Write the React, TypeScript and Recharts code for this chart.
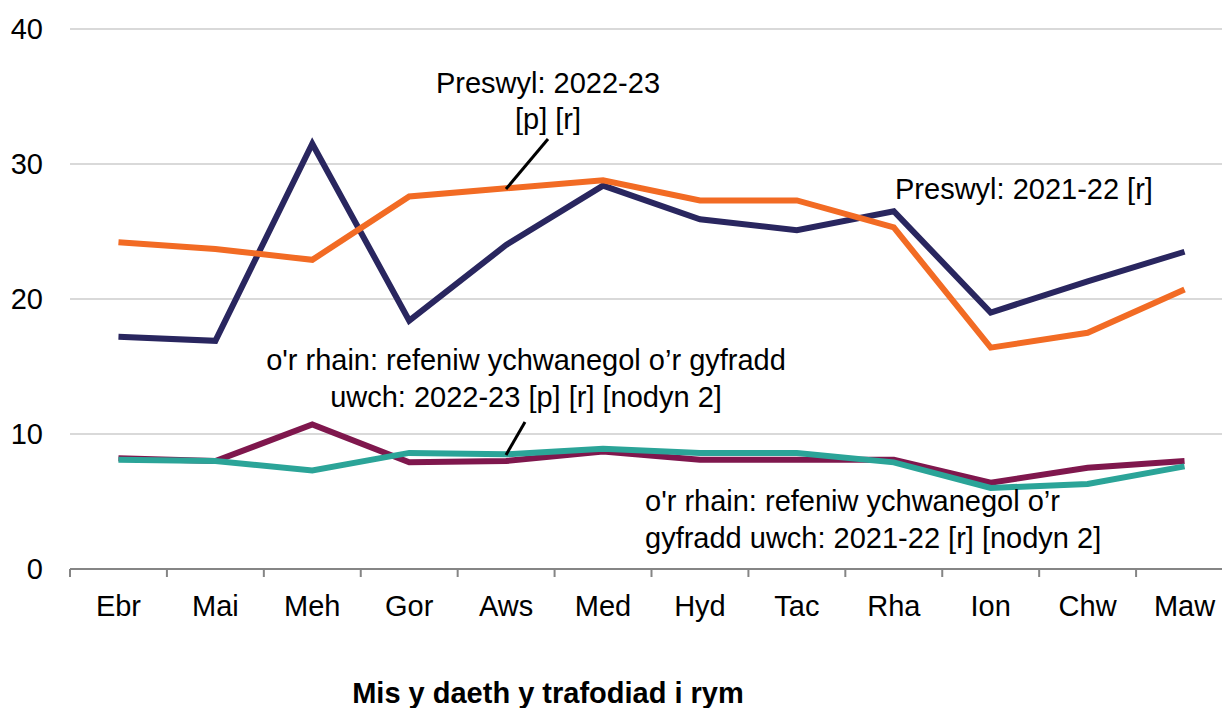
import { LineChart, Line, XAxis, YAxis, CartesianGrid } from "recharts";

const months = ["Ebr", "Mai", "Meh", "Gor", "Aws", "Med", "Hyd", "Tac", "Rha", "Ion", "Chw", "Maw"];
const residential2122 = [17.2, 16.9, 31.5, 18.4, 24.0, 28.4, 25.9, 25.1, 26.5, 19.0, 21.3, 23.5];
const residential2223 = [24.2, 23.7, 22.9, 27.6, 28.2, 28.8, 27.3, 27.3, 25.3, 16.4, 17.5, 20.7];
const higherRate2122 = [8.2, 8.0, 10.7, 7.9, 8.0, 8.7, 8.1, 8.1, 8.1, 6.4, 7.5, 8.0];
const higherRate2223 = [8.1, 8.0, 7.3, 8.6, 8.5, 8.9, 8.6, 8.6, 7.9, 6.0, 6.3, 7.6];
const yTicks = [0, 10, 20, 30, 40];

const data = months.map((month, i) => ({
  month,
  res2122: residential2122[i],
  res2223: residential2223[i],
  hr2122: higherRate2122[i],
  hr2223: higherRate2223[i],
}));

const FONT = "'Liberation Sans', Arial, sans-serif";

// chart geometry (the plot runs past the right edge of the window, as in the original)
const CHART_W = 1250;
const CHART_H = 708;
const Y_AXIS_W = 70;
const RIGHT = 17;
const HALF_BAND = (CHART_W - RIGHT - Y_AXIS_W) / months.length / 2;

// month label at the band centre, tick marks on the band edges
const MonthTick = (props: any) => {
  const { x, y, payload, index } = props;
  const last = index === months.length - 1;
  return (
    <g>
      <line x1={x - HALF_BAND} x2={x - HALF_BAND} y1={y} y2={y + 8} stroke="#858585" strokeWidth={2} />
      {last && <line x1={x + HALF_BAND} x2={x + HALF_BAND} y1={y} y2={y + 8} stroke="#858585" strokeWidth={2} />}
      <text x={x} y={y + 26} dy="0.71em" textAnchor="middle" fill="#000" fontSize={29} fontFamily={FONT}>
        {payload.value}
      </text>
    </g>
  );
};

const App = () => {
  return (
    <div
      style={{
        position: "absolute",
        left: 0,
        top: 0,
        width: 1222,
        height: 708,
        overflow: "hidden",
        background: "#fff",
        fontFamily: FONT,
      }}
    >
      <LineChart width={CHART_W} height={CHART_H} data={data} margin={{ top: 29, right: RIGHT, bottom: 0, left: 0 }}>
        <CartesianGrid vertical={false} stroke="#d9d9d9" strokeWidth={2} />
        <XAxis
          dataKey="month"
          scale="band"
          interval={0}
          tickLine={false}
          tickSize={0}
          tickMargin={0}
          height={139}
          stroke="#858585"
          strokeWidth={2}
          tick={<MonthTick />}
        />
        <YAxis
          domain={[0, 40]}
          ticks={yTicks}
          width={Y_AXIS_W}
          tickLine={false}
          axisLine={false}
          tickSize={0}
          tickMargin={27}
          tick={{ fill: "#000", fontSize: 29, fontFamily: FONT }}
        />
        <Line type="linear" dataKey="res2122" stroke="#29265f" strokeWidth={6} dot={false} isAnimationActive={false} />
        <Line type="linear" dataKey="res2223" stroke="#f26b24" strokeWidth={6} dot={false} isAnimationActive={false} />
        <Line type="linear" dataKey="hr2122" stroke="#7f174d" strokeWidth={6} dot={false} isAnimationActive={false} />
        <Line type="linear" dataKey="hr2223" stroke="#2ba498" strokeWidth={6} dot={false} isAnimationActive={false} />
      </LineChart>
      <svg
        width={1222}
        height={708}
        style={{ position: "absolute", left: 0, top: 0, pointerEvents: "none" }}
        fontFamily={FONT}
        fontSize={29}
        fill="#000"
      >
        <text x={548} y={93} textAnchor="middle">Preswyl: 2022-23</text>
        <text x={548} y={129} textAnchor="middle">[p] [r]</text>
        <line x1={548} y1={139} x2={506} y2={189} stroke="#000" strokeWidth={3} />

        <text x={895} y={199}>Preswyl: 2021-22 [r]</text>

        <text x={526} y={370} textAnchor="middle">o'r rhain: refeniw ychwanegol o’r gyfradd</text>
        <text x={526} y={407} textAnchor="middle">uwch: 2022-23 [p] [r] [nodyn 2]</text>
        <line x1={525} y1={422} x2={506} y2={455} stroke="#000" strokeWidth={3} />

        <text x={645} y={511}>o'r rhain: refeniw ychwanegol o’r</text>
        <text x={645} y={548}>gyfradd uwch: 2021-22 [r] [nodyn 2]</text>

        <text x={548} y={703} textAnchor="middle" fontSize={29} fontWeight="bold">
          Mis y daeth y trafodiad i rym
        </text>
      </svg>
    </div>
  );
};

export default App;
